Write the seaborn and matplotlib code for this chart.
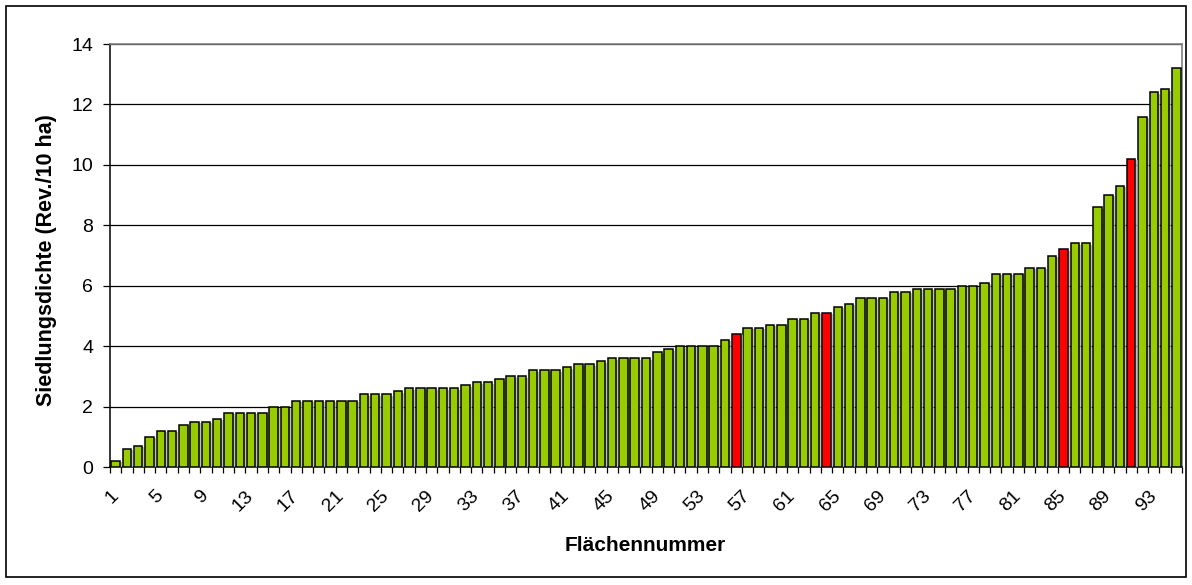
import numpy as np
import pandas as pd
import seaborn as sns
import matplotlib.pyplot as plt
import matplotlib.patheffects as pe
from matplotlib import ticker, transforms
from matplotlib.patches import Rectangle

# Siedlungsdichte je Fläche (Rev./10 ha), sortiert
dichte = [
    0.2, 0.6, 0.7, 1.0, 1.2, 1.2, 1.4, 1.5, 1.5, 1.6,
    1.8, 1.8, 1.8, 1.8, 2.0, 2.0, 2.2, 2.2, 2.2, 2.2,
    2.2, 2.2, 2.4, 2.4, 2.4, 2.5, 2.6, 2.6, 2.6, 2.6,
    2.6, 2.7, 2.8, 2.8, 2.9, 3.0, 3.0, 3.2, 3.2, 3.2,
    3.3, 3.4, 3.4, 3.5, 3.6, 3.6, 3.6, 3.6, 3.8, 3.9,
    4.0, 4.0, 4.0, 4.0, 4.2, 4.4, 4.6, 4.6, 4.7, 4.7,
    4.9, 4.9, 5.1, 5.1, 5.3, 5.4, 5.6, 5.6, 5.6, 5.8,
    5.8, 5.9, 5.9, 5.9, 5.9, 6.0, 6.0, 6.1, 6.4, 6.4,
    6.4, 6.6, 6.6, 7.0, 7.2, 7.4, 7.4, 8.6, 9.0, 9.3,
    10.2, 11.6, 12.4, 12.5, 13.2,
]
flaechen = [str(i) for i in range(1, len(dichte) + 1)]
rot = [56, 64, 85, 91]  # hervorgehobene Flächen
tick_labels = [str(i) for i in range(1, 94, 4)]

df = pd.DataFrame({'flaeche': flaechen, 'dichte': dichte})
df['markiert'] = df['flaeche'].astype(int).isin(rot)

plt.rcParams['font.family'] = ['Liberation Sans', 'DejaVu Sans']

W, H = 1192, 585
fig = plt.figure(figsize=(W / 100, H / 100), dpi=100)
left, right, top, bottom = 110, 1182, 44, 467
ax = fig.add_axes([left / W, 1 - bottom / H, (right - left) / W, (bottom - top) / H])

sns.barplot(
    data=df, x='flaeche', y='dichte',
    hue='markiert', palette={False: '#99CC00', True: '#FF0000'},
    dodge=False, legend=False, width=0.75,
    edgecolor='black', linewidth=1.1, saturation=1, ax=ax, zorder=3,
)
# leichter Schatten wie in Excel
for p in ax.patches:
    p.set_path_effects([pe.SimplePatchShadow(offset=(1.5, -1), shadow_rgbFace='#b0b0b0', alpha=0.8),
                        pe.Normal()])

ax.set_xlim(-0.5, len(dichte) - 0.5)
ax.set_ylim(0, 14)
ax.yaxis.set_major_locator(ticker.MultipleLocator(2))
ax.grid(axis='y', color='black', linewidth=0.9, zorder=0)
ax.set_axisbelow(True)

# Kategorie-Beschriftung jede 4. Fläche, Teilstriche zwischen den Kategorien
ax.set_xticks([int(t) - 1 for t in tick_labels])
ax.set_xticklabels(tick_labels, rotation=45, ha='right', va='center',
                   rotation_mode='anchor', fontsize=14)
shift = transforms.ScaledTranslation(-0.13, 0, fig.dpi_scale_trans)
for lab in ax.get_xticklabels():
    lab.set_transform(lab.get_transform() + shift)
ax.xaxis.set_minor_locator(ticker.FixedLocator(np.arange(-0.5, len(dichte), 1)))
ax.tick_params(axis='x', which='major', length=0, pad=19)
ax.tick_params(axis='x', which='minor', length=4, width=0.9, color='black')
ax.tick_params(axis='y', length=5, width=0.9, labelsize=14, pad=7)

for s in ['top', 'right']:
    ax.spines[s].set_color('#808080')
    ax.spines[s].set_linewidth(1.2)
for s in ['left', 'bottom']:
    ax.spines[s].set_color('black')
    ax.spines[s].set_linewidth(1.1)

ax.set_xlabel('Flächennummer', fontsize=15, fontweight='bold')
ax.set_ylabel('Siedlungsdichte (Rev./10 ha)', fontsize=15.5, fontweight='bold')
ax.xaxis.set_label_coords((645 - left) / (right - left), (bottom - 536) / (bottom - top))
ax.yaxis.set_label_coords((57 - left) / (right - left), 0.49)

# Rahmen um das Diagramm
fig.patches.append(Rectangle((6 / W, 8 / H), 1180 / W, 571 / H, transform=fig.transFigure,
                             fill=False, edgecolor='black', linewidth=1.2))

fig.savefig('out.png', dpi=100, facecolor='white')
